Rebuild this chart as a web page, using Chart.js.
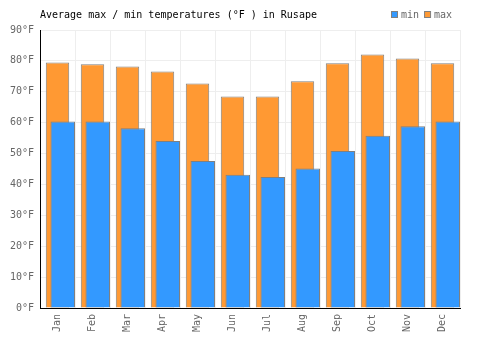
<!DOCTYPE html>
<html>
<head>
<meta charset="utf-8">
<script src="https://cdn.jsdelivr.net/npm/chart.js@4/dist/chart.umd.min.js"></script>
<style>
  html, body { margin: 0; padding: 0; background: #fff; }
  #wrap { width: 500px; height: 350px; }
</style>
</head>
<body>
<div id="wrap"><canvas id="chart" width="500" height="350"></canvas></div>
<script>
// ==================== DATA ====================
const months = ['Jan','Feb','Mar','Apr','May','Jun','Jul','Aug','Sep','Oct','Nov','Dec'];
const minTemps = [60.4, 60.4, 58.2, 54.1, 47.6, 43.1, 42.4, 45.2, 50.8, 55.8, 58.8, 60.4];
const maxTemps = [79.5, 78.9, 78.2, 76.6, 72.7, 68.5, 68.5, 73.4, 79.2, 82.1, 80.8, 79.2];
const yTicks = [0, 10, 20, 30, 40, 50, 60, 70, 80, 90];
const titleText = 'Average max / min temperatures (°F ) in Rusape';

const MONO = '"DejaVu Sans Mono", monospace';
const BLUE = '#3399ff';
const ORANGE = '#ff9933';
const EDGE = '#808080';

// title + legend in one row (chart.js stacks them otherwise)
const headerPlugin = {
    id: 'header',
    afterDraw(chart) {
        const ctx = chart.ctx;
        ctx.save();
        ctx.font = '10px ' + MONO;
        ctx.textBaseline = 'middle';
        ctx.fillStyle = '#000';
        ctx.textAlign = 'left';
        ctx.fillText(titleText, chart.chartArea.left, 15);

        let x = 391;
        chart.data.datasets.forEach(ds => {
            ctx.fillStyle = ds.backgroundColor;
            ctx.fillRect(x + 0.5, 11.5, 6, 6);
            ctx.strokeStyle = EDGE;
            ctx.lineWidth = 1;
            ctx.strokeRect(x + 0.5, 11.5, 6, 6);
            ctx.fillStyle = '#666';
            ctx.fillText(ds.label, x + 10, 15);
            x += 10 + ctx.measureText(ds.label).width + 5;
        });
        ctx.restore();
    }
};

new Chart(document.getElementById('chart'), {
    type: 'bar',
    data: {
        labels: months,
        datasets: [
            {
                label: 'min',
                data: minTemps.map((v, i) => ({ x: i, y: v })),
                xAxisID: 'x2',
                backgroundColor: BLUE,
                borderColor: EDGE,
                borderWidth: 1,
                grouped: false,
                barPercentage: 0.7,
                categoryPercentage: 1
            },
            {
                label: 'max',
                data: maxTemps,
                xAxisID: 'x',
                backgroundColor: ORANGE,
                borderColor: EDGE,
                borderWidth: 1,
                grouped: false,
                barPercentage: 0.67,
                categoryPercentage: 1
            }
        ]
    },
    options: {
        responsive: false,
        animation: false,
        layout: { padding: { left: 0, right: 40, top: 30, bottom: 0 } },
        plugins: {
            legend: { display: false },
            title: { display: false },
            tooltip: { enabled: false }
        },
        scales: {
            x: {
                type: 'category',
                grid: { color: '#eeeeee', drawTicks: false, offset: true },
                border: { color: '#000', width: 1 },
                ticks: {
                    color: '#666',
                    font: { family: MONO, size: 10 },
                    minRotation: 90,
                    maxRotation: 90,
                    padding: 6
                },
                afterFit(scale) { scale.height = 42; }
            },
            // hidden helper axis: shifts the min bars a little right of the max bars
            x2: {
                type: 'linear',
                axis: 'x',
                position: 'bottom',
                display: false,
                offset: false,
                grid: { offset: false },
                min: -0.65,
                max: 11.35
            },
            y: {
                min: 0,
                max: 90,
                afterBuildTicks(scale) { scale.ticks = yTicks.map(v => ({ value: v })); },
                grid: { color: '#eeeeee', drawTicks: false },
                border: { color: '#000', width: 1 },
                ticks: {
                    color: '#666',
                    font: { family: MONO, size: 10 },
                    padding: 6,
                    callback: v => v + '°F'
                },
                afterFit(scale) { scale.width = 40; }
            }
        }
    },
    plugins: [headerPlugin]
});
</script>
</body>
</html>
